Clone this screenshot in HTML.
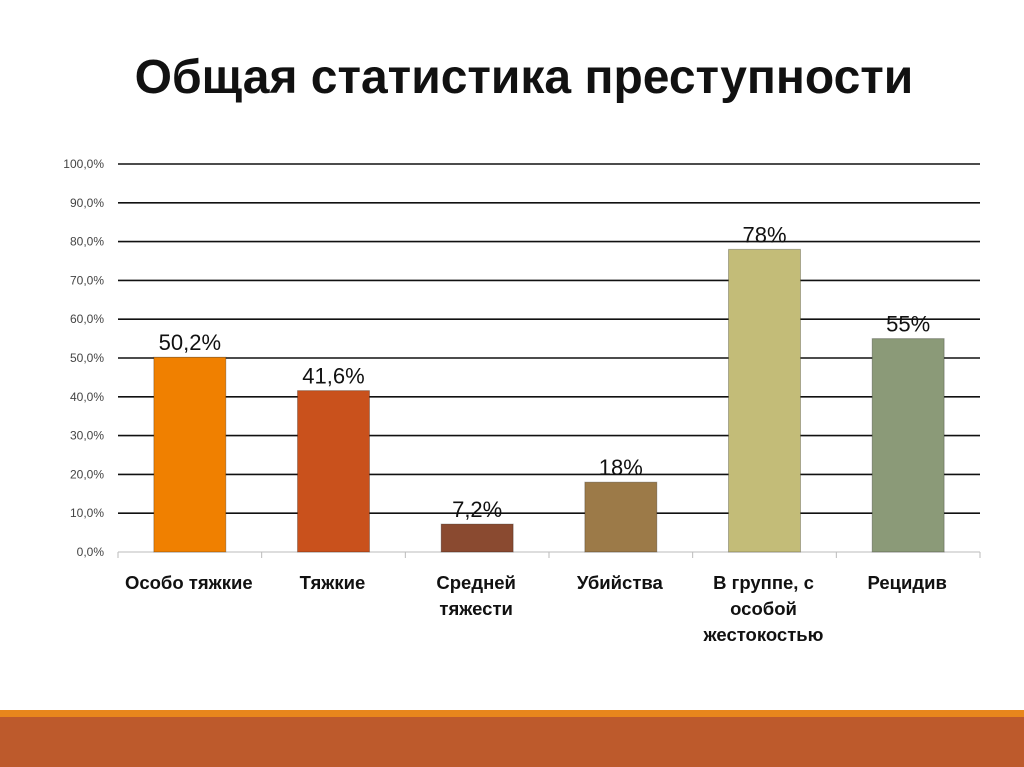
<!DOCTYPE html>
<html><head><meta charset="utf-8"><style>
body{margin:0;width:1024px;height:767px;background:#fff;overflow:hidden;position:relative;font-family:"Liberation Sans","DejaVu Sans",sans-serif}
#title{position:absolute;left:0;width:1048px;top:50px;text-align:center;font-size:48px;font-weight:bold;color:#111;line-height:56px}
#stripe{position:absolute;left:0;top:710px;width:1024px;height:7px;background:#e8861c}
#band{position:absolute;left:0;top:717px;width:1024px;height:50px;background:#bd5a2c}
</style></head><body>
<div id="title">Общая статистика преступности</div>
<svg id="chart" width="1024" height="700" style="position:absolute;left:0;top:0"></svg>
<div id="stripe"></div>
<div id="band"></div>
<script>
const categories=[["Особо тяжкие"],["Тяжкие"],["Средней","тяжести"],["Убийства"],["В группе, с","особой","жестокостью"],["Рецидив"]];
const values=[50.2,41.6,7.2,18,78,55];
const valueLabels=["50,2%","41,6%","7,2%","18%","78%","55%"];
const colors=["#f08000","#c9511c","#8a4a30","#9c7a48","#c3bc78","#8b9a78"];
const ticks=[0,10,20,30,40,50,60,70,80,90,100];
const ns="http://www.w3.org/2000/svg";
const svg=document.getElementById('chart');
const x0=118,x1=980,y0=552,y1=164;
const y=v=>y0-(v/100)*(y0-y1);
const cw=(x1-x0)/categories.length;
const xc=i=>x0+cw*(i+0.5);
function mk(t,a){const e=document.createElementNS(ns,t);for(const k in a)e.setAttribute(k,a[k]);svg.appendChild(e);return e;}
ticks.forEach(t=>{
 if(t>0){const l=mk('line',{x1:x0,x2:x1,y1:y(t),y2:y(t),stroke:'#111','stroke-width':1.6});
 
 }
 const tx=mk('text',{x:x0-14,y:y(t)+4,'text-anchor':'end','font-size':12,fill:'#444'});
 tx.textContent=t.toFixed(1).replace('.',',')+'%';
 
 
});
const ax=mk('line',{x1:x0,x2:x1,y1:y0,y2:y0,stroke:'#bbb','stroke-width':1});


for(let i=0;i<=categories.length;i++){mk('line',{x1:x0+cw*i,x2:x0+cw*i,y1:y0,y2:y0+6,stroke:'#bbb'});}
values.forEach((v,i)=>{
 const bw=72;
 const r=mk('rect',{x:xc(i)-bw/2,y:y(v),width:bw,height:y0-y(v),fill:colors[i],stroke:'rgba(0,0,0,0.25)','stroke-width':1});
 
 
 const t=mk('text',{x:xc(i),y:y(v)-7,'text-anchor':'middle','font-size':22,fill:'#111'});
 t.textContent=valueLabels[i];
 
 
 categories[i].forEach((ln,j)=>{
  const c=mk('text',{x:xc(i)-1,y:589+j*26,'text-anchor':'middle','font-size':18.5,'font-weight':'bold',fill:'#111'});
  c.textContent=ln;
  
  
 });
});
</script>
</body></html>
